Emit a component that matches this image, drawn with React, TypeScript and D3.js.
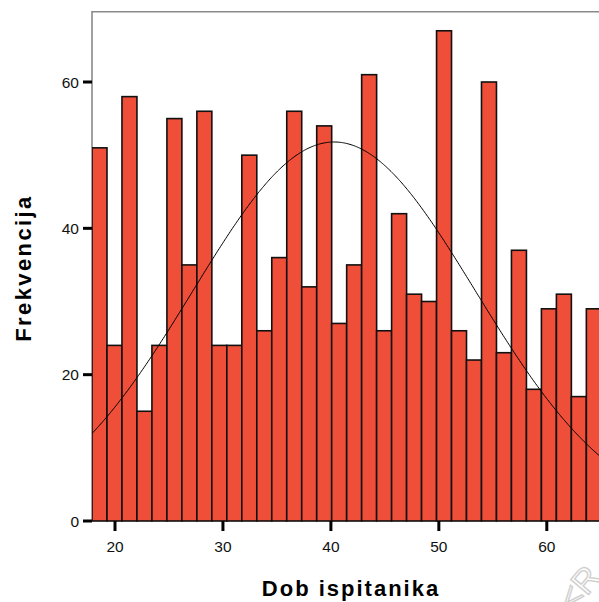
import React from "react";
import * as d3 from "d3";

// Histogram bin counts (age groups, left to right)
const binCounts = [
  51, 24, 58, 15, 24, 55, 35, 56, 24, 24, 50, 26, 36, 56, 32, 54, 27,
  35, 61, 26, 42, 31, 30, 67, 26, 22, 60, 23, 37, 18, 29, 31, 17, 29,
];
const binStart = 17.87; // lower edge of first bin (years)
const binWidth = 1.3877; // years per bin

const xTicks = [20, 30, 40, 50, 60];
const yTicks = [0, 20, 40, 60];

// Fitted normal curve parameters
const curveMean = 40.3;
const curveSd = 13.1;
const curvePeak = 51.8; // expected count at mean

const xTitle = "Dob ispitanika";
const yTitle = "Frekvencija";

const W = 599;
const H = 602;
const FONT = "'Liberation Sans', Arial, Helvetica, sans-serif";

export default function App() {
  const x = d3.scaleLinear().domain([20, 60]).range([115, 546.8]);
  const y = d3.scaleLinear().domain([0, 60]).range([521, 82]);

  const plotLeft = x(binStart);
  const plotTop = y(69.6);
  const plotBottom = y(0);
  const plotRight = 640;

  const bins = binCounts.map((c, i) => ({
    x0: binStart + i * binWidth,
    x1: binStart + (i + 1) * binWidth,
    c,
  }));

  const ages = d3.range(binStart, 70, 0.1);
  const curve = d3
    .line<number>()
    .x((a) => x(a))
    .y((a) => y(curvePeak * Math.exp(-((a - curveMean) ** 2) / (2 * curveSd * curveSd))));

  return (
    <svg
      width={W}
      height={H}
      style={{ position: "absolute", left: 0, top: 0, background: "#fff" }}
    >
      <defs>
        <clipPath id="plotclip">
          <rect x={plotLeft} y={plotTop} width={plotRight - plotLeft} height={plotBottom - plotTop + 2} />
        </clipPath>
      </defs>
      {/* frame */}
      <path
        d={`M${plotLeft},${plotBottom} V${plotTop} H${plotRight}`}
        fill="none"
        stroke="#8a8a8a"
        strokeWidth={1.6}
      />
      {/* bars */}
      <g clipPath="url(#plotclip)">
        {bins.map((b, i) => (
          <rect
            key={i}
            x={x(b.x0)}
            y={y(b.c)}
            width={x(b.x1) - x(b.x0)}
            height={y(0) - y(b.c)}
            fill="#EF4E38"
            stroke="#111"
            strokeWidth={1.6}
          />
        ))}
        <path d={curve(ages) || ""} fill="none" stroke="#000" strokeWidth={1} />
      </g>
      {/* y axis ticks */}
      {yTicks.map((t) => (
        <g key={t}>
          <line x1={plotLeft - 9} x2={plotLeft} y1={y(t)} y2={y(t)} stroke="#000" strokeWidth={3} />
          <text
            x={79}
            y={y(t)}
            dy="0.36em"
            textAnchor="end"
            fontFamily={FONT}
            fontSize={15.5}
            fill="#111"
          >
            {t}
          </text>
        </g>
      ))}
      {/* x axis ticks */}
      {xTicks.map((t) => (
        <g key={t}>
          <line x1={x(t)} x2={x(t)} y1={plotBottom} y2={plotBottom + 10} stroke="#000" strokeWidth={3} />
          <text
            x={x(t)}
            y={552}
            textAnchor="middle"
            fontFamily={FONT}
            fontSize={15.5}
            fill="#111"
          >
            {t}
          </text>
        </g>
      ))}
      {/* axis titles */}
      <text
        x={351}
        y={596}
        textAnchor="middle"
        fontFamily={FONT}
        fontSize={22}
        fontWeight="bold"
        letterSpacing={2}
        fill="#000"
      >
        {xTitle}
      </text>
      <text
        transform={`translate(31,${268}) rotate(-90)`}
        textAnchor="middle"
        fontFamily={FONT}
        fontSize={22}
        fontWeight="bold"
        letterSpacing={2.4}
        fill="#000"
      >
        {yTitle}
      </text>
      {/* watermark fragment */}
      <text
        transform="translate(574,612) rotate(-50)"
        fontFamily={FONT}
        fontSize={34}
        fill="none"
        stroke="#cfcfcf"
        strokeWidth={1.4}
      >
        &lt;R
      </text>
    </svg>
  );
}
